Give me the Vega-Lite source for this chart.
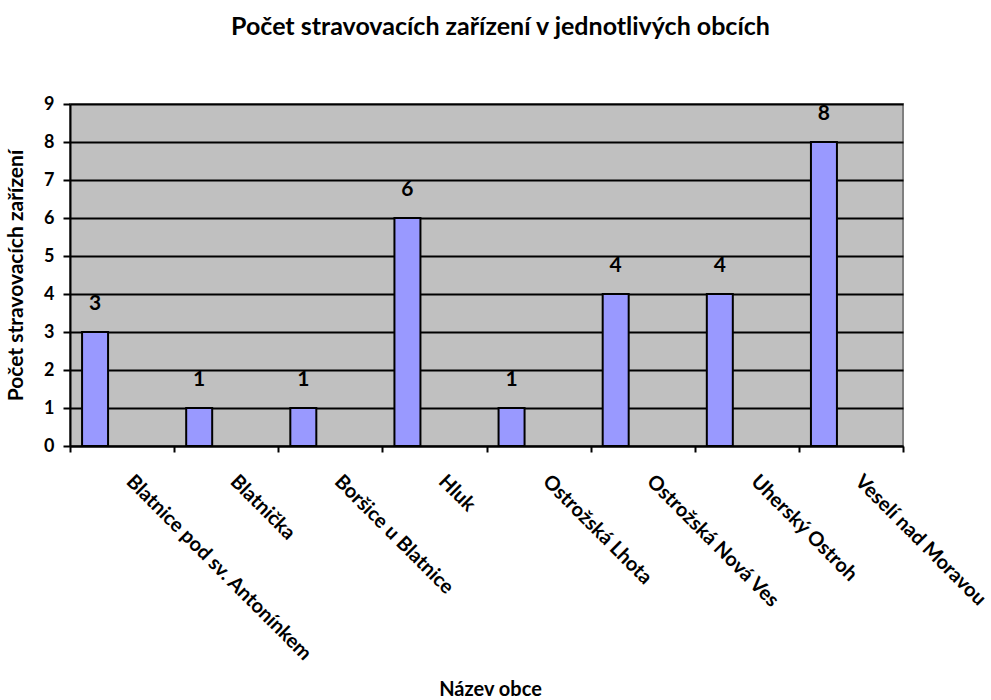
{
  "$schema": "https://vega.github.io/schema/vega-lite/v6.json",
  "width": 833,
  "height": 342,
  "autosize": "none",
  "padding": {"left": 70, "top": 104, "right": 88, "bottom": 254},
  "background": "white",
  "config": {
    "font": "Lato",
    "view": {"fill": "#C0C0C0", "stroke": "#808080", "strokeWidth": 2}
  },
  "title": {
    "text": "Počet stravovacích zařízení v jednotlivých obcích",
    "font": "Lato",
    "fontSize": 25,
    "fontWeight": "bold",
    "color": "black",
    "anchor": "middle",
    "dx": 14,
    "offset": 55
  },
  "data": {
    "values": [
      {"obec": "Blatnice pod sv. Antonínkem", "pocet": 3},
      {"obec": "Blatnička", "pocet": 1},
      {"obec": "Boršice u Blatnice", "pocet": 1},
      {"obec": "Hluk", "pocet": 6},
      {"obec": "Ostrožská Lhota", "pocet": 1},
      {"obec": "Ostrožská Nová Ves", "pocet": 4},
      {"obec": "Uherský Ostroh", "pocet": 4},
      {"obec": "Veselí nad Moravou", "pocet": 8}
    ]
  },
  "encoding": {
    "x": {
      "field": "obec",
      "type": "nominal",
      "sort": null,
      "scale": {"paddingInner": 0, "paddingOuter": 0},
      "axis": {
        "title": "Název obce",
        "titleFont": "Lato",
        "titleFontSize": 20,
        "titleFontWeight": "bold",
        "titleColor": "black",
        "titleBaseline": "alphabetic",
        "titleY": 249,
        "titleX": 420,
        "tickBand": "extent",
        "tickColor": "black",
        "tickWidth": 2,
        "tickSize": 6,
        "domainColor": "black",
        "domainWidth": 2,
        "labelAngle": 45,
        "labelAlign": "left",
        "labelBaseline": "top",
        "labelPadding": 19,
        "labelOffset": 14,
        "labelFont": "Lato",
        "labelFontSize": 20,
        "labelFontWeight": "bold",
        "labelColor": "black",
        "labelOverlap": false,
        "labelLimit": 0,
        "grid": false
      }
    },
    "y": {
      "field": "pocet",
      "type": "quantitative",
      "scale": {"domain": [0, 9], "nice": false},
      "axis": {
        "title": "Počet stravovacích zařízení",
        "titleFont": "Lato",
        "titleFontSize": 21,
        "titleFontWeight": "bold",
        "titleColor": "black",
        "titlePadding": 17,
        "values": [0, 1, 2, 3, 4, 5, 6, 7, 8, 9],
        "grid": true,
        "gridColor": "black",
        "gridWidth": 2,
        "gridOpacity": 1,
        "tickColor": "black",
        "tickWidth": 2,
        "tickSize": 7,
        "domainColor": "black",
        "domainWidth": 2,
        "labelPadding": 9,
        "labelFont": "Lato",
        "labelFontSize": 18,
        "labelFontWeight": "bold",
        "labelColor": "black"
      }
    }
  },
  "layer": [
    {
      "mark": {"type": "bar", "width": 26, "xOffset": -27, "fill": "#9999FF", "stroke": "black", "strokeWidth": 2}
    },
    {
      "mark": {"type": "text", "xOffset": -27, "dy": -28, "font": "Lato", "fontSize": 21, "fontWeight": "bold", "color": "black"},
      "encoding": {"text": {"field": "pocet", "type": "quantitative"}}
    }
  ]
}
